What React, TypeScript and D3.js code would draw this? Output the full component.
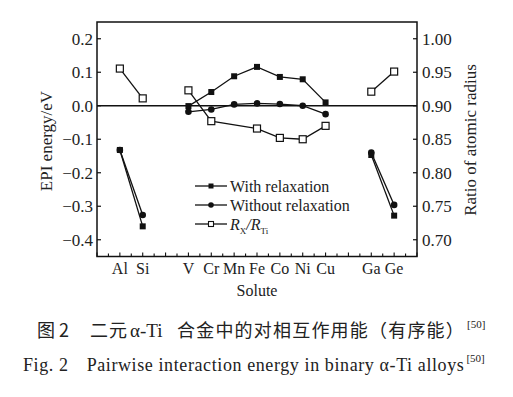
import React from "react";
import * as d3 from "d3";

// solute positions on the x axis, "" = empty slot
const slots = ["Al", "Si", "", "V", "Cr", "Mn", "Fe", "Co", "Ni", "Cu", "", "Ga", "Ge"];
const solutes = ["Al", "Si", "V", "Cr", "Mn", "Fe", "Co", "Ni", "Cu", "Ga", "Ge"];
const segments = [["Al", "Si"], ["V", "Cr", "Mn", "Fe", "Co", "Ni", "Cu"], ["Ga", "Ge"]];

const withRelaxation = [-0.132, -0.36, -0.001, 0.041, 0.088, 0.116, 0.086, 0.079, 0.01, -0.147, -0.328];
const withoutRelaxation = [-0.132, -0.326, -0.018, -0.011, 0.004, 0.007, 0.005, 0.0, -0.025, -0.14, -0.296];
const radiusRatio = [0.9555, 0.911, 0.923, 0.877, null, 0.866, 0.852, 0.85, 0.87, 0.921, 0.951];

const leftTicks = [0.2, 0.1, 0.0, -0.1, -0.2, -0.3, -0.4];
const rightTicks = [1.0, 0.95, 0.9, 0.85, 0.8, 0.75, 0.7];

const W = 513, H = 397;
const box = { left: 97, right: 417, top: 22, bottom: 256.5 };
const serif = "Liberation Serif";
const cjk = "Noto Sans CJK SC";

export default function App() {
  const x = d3.scalePoint<string>().domain(slots.map((s, i) => s || "_" + i)).range([box.left, box.right]).padding(1);
  const y = d3.scaleLinear().domain([-0.45, 0.25]).range([box.bottom, box.top]);
  const yr = d3.scaleLinear().domain([0.675, 1.025]).range([box.bottom, box.top]);

  const line = d3.line<[number, number]>().x(d => d[0]).y(d => d[1]);

  const series = (vals: (number | null)[], sc: d3.ScaleLinear<number, number>) =>
    segments.map(seg =>
      seg
        .map(s => {
          const v = vals[solutes.indexOf(s)];
          return v == null ? null : ([x(s)!, sc(v)] as [number, number]);
        })
        .filter(p => p != null) as [number, number][]
    );

  const sWith = series(withRelaxation, y);
  const sWithout = series(withoutRelaxation, y);
  const sRatio = series(radiusRatio, yr);

  const step = x.step();
  const xTicks = d3.range(box.left, box.right + 0.1, step / 2);

  const sq = 6, osq = 7, rad = 3.3;
  const txt = { fontFamily: serif, fill: "#222" };

  return (
    <svg width={W} height={H} style={{ position: "absolute", left: 0, top: 0, background: "#fff" }}>
      <rect x={0} y={0} width={W} height={H} fill="#fff" />
      {/* frame */}
      <rect x={box.left} y={box.top} width={box.right - box.left} height={box.bottom - box.top} fill="none" stroke="#111" strokeWidth={1.5} />
      {/* zero line */}
      <line x1={box.left} x2={box.right} y1={y(0)} y2={y(0)} stroke="#111" strokeWidth={1.5} />

      {/* left ticks */}
      {leftTicks.map(t => (
        <g key={"l" + t}>
          <line x1={box.left} x2={box.left + 4} y1={y(t)} y2={y(t)} stroke="#111" strokeWidth={1.2} />
          <text x={box.left - 4} y={y(t)} dy="0.35em" textAnchor="end" style={txt} fontSize={17}>
            {t === 0 ? "0.0" : d3.format(".1f")(t).replace("-", "\u2212")}
          </text>
        </g>
      ))}
      {/* right ticks */}
      {rightTicks.map(t => (
        <g key={"r" + t}>
          <line x1={box.right - 4} x2={box.right} y1={yr(t)} y2={yr(t)} stroke="#111" strokeWidth={1.2} />
          <text x={box.right + 5} y={yr(t)} dy="0.35em" textAnchor="start" style={txt} fontSize={17}>
            {d3.format(".2f")(t)}
          </text>
        </g>
      ))}
      {/* bottom ticks */}
      {xTicks.map((t, i) => (
        <line key={"x" + i} x1={t} x2={t} y1={box.bottom} y2={box.bottom - (i % 2 === 0 ? 4 : 3)} stroke="#111" strokeWidth={1.1} />
      ))}
      {solutes.map(s => (
        <text key={"xl" + s} x={x(s)} y={274} textAnchor="middle" style={txt} fontSize={16}>{s}</text>
      ))}
      <text x={257} y={296} textAnchor="middle" style={txt} fontSize={16}>Solute</text>
      <text transform="translate(46,141) rotate(-90)" textAnchor="middle" dy="0.35em" style={txt} fontSize={17}>EPI energy/eV</text>
      <text transform="translate(470,140) rotate(-90)" textAnchor="middle" dy="0.35em" style={txt} fontSize={17}>Ratio of atomic radius</text>

      {/* series lines */}
      {sRatio.map((pts, i) => <path key={"rl" + i} d={line(pts)!} fill="none" stroke="#111" strokeWidth={1.3} />)}
      {sWith.map((pts, i) => <path key={"wl" + i} d={line(pts)!} fill="none" stroke="#111" strokeWidth={1.3} />)}
      {sWithout.map((pts, i) => <path key={"ol" + i} d={line(pts)!} fill="none" stroke="#111" strokeWidth={1.3} />)}

      {/* markers */}
      {sRatio.flat().map((p, i) => (
        <rect key={"rm" + i} x={p[0] - osq / 2} y={p[1] - osq / 2} width={osq} height={osq} fill="#fff" stroke="#111" strokeWidth={1.2} />
      ))}
      {sWith.flat().map((p, i) => (
        <rect key={"wm" + i} x={p[0] - sq / 2} y={p[1] - sq / 2} width={sq} height={sq} fill="#111" />
      ))}
      {sWithout.flat().map((p, i) => (
        <circle key={"om" + i} cx={p[0]} cy={p[1]} r={rad} fill="#111" />
      ))}

      {/* legend */}
      <g style={txt} fontSize={16}>
        <line x1={195} x2={227} y1={186} y2={186} stroke="#111" strokeWidth={1.3} />
        <rect x={211 - 2.5} y={186 - 2.5} width={5} height={5} fill="#111" />
        <text x={230} y={186} dy="0.35em" style={txt}>With relaxation</text>
        <line x1={195} x2={227} y1={205} y2={205} stroke="#111" strokeWidth={1.3} />
        <circle cx={211} cy={205} r={2.8} fill="#111" />
        <text x={230} y={205} dy="0.35em" style={txt}>Without relaxation</text>
        <line x1={195} x2={227} y1={224} y2={224} stroke="#111" strokeWidth={1.3} />
        <rect x={211 - 2.5} y={224 - 2.5} width={5} height={5} fill="#fff" stroke="#111" strokeWidth={1.1} />
        <text x={230} y={224} dy="0.35em" style={txt}>
          <tspan fontStyle="italic">R</tspan>
          <tspan fontSize={9} dy={4}>X</tspan>
          <tspan dy={-4} fontStyle="italic">/R</tspan>
          <tspan fontSize={9} dy={4}>Ti</tspan>
        </text>
      </g>

      {/* caption */}
      <text x={37} y={337} style={{ fontFamily: cjk, fill: "#222" }} fontSize={18}>
        图 2<tspan x={90} letterSpacing={1}>二元</tspan>
        <tspan x={130} style={{ fontFamily: serif }} fontSize={19}>α-Ti</tspan>
        <tspan x={177} letterSpacing={1.2}>合金中的对相互作用能（有序能）</tspan>
        <tspan x={467} style={{ fontFamily: serif }} fontSize={11} dy={-9}>[50]</tspan>
      </text>
      <text x={23} y={371} style={txt} fontSize={18} letterSpacing={0.6}>
        Fig. 2<tspan dx={18}>Pairwise interaction energy in binary α-Ti alloys</tspan>
        <tspan fontSize={11} dy={-9} dx={2} letterSpacing={0}>[50]</tspan>
      </text>
    </svg>
  );
}
